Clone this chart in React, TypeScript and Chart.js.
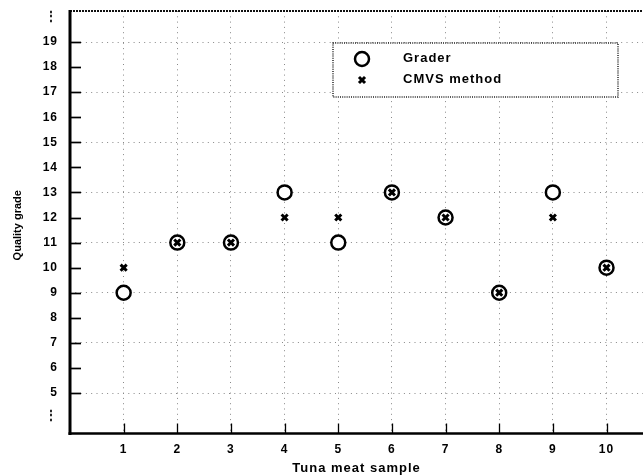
import React, { useEffect, useRef } from 'react';
import { Chart, registerables } from 'chart.js';

Chart.register(...registerables);

const samples = [1, 2, 3, 4, 5, 6, 7, 8, 9, 10];
const graderGrades = [9, 11, 11, 13, 11, 13, 12, 9, 13, 10];
const cmvsGrades = [10, 11, 11, 12, 12, 13, 12, 9, 12, 10];
const yTickValues = [4.1, 5, 6, 7, 8, 9, 10, 11, 12, 13, 14, 15, 16, 17, 18, 19, 20];
const yBreakTicks = [4.1, 20];
const seriesLabels = ['Grader', 'CMVS method'];
const xTitle = 'Tuna meat sample';
const yTitle = 'Quality grade';

const FONT = '"Liberation Sans", Arial, Helvetica, sans-serif';

const framePlugin = {
  id: 'frame',
  beforeDraw(chart: any) {
    chart.ctx.letterSpacing = '1px';
  },
  beforeDatasetsDraw(chart: any) {
    const { ctx, chartArea, scales } = chart;
    const { left, right, top, bottom } = chartArea;
    const x = scales.x;
    const y = scales.y;
    ctx.save();
    ctx.letterSpacing = '0px';
    // top dotted border
    ctx.strokeStyle = '#111';
    ctx.lineWidth = 2;
    ctx.setLineDash([2, 1]);
    ctx.beginPath();
    ctx.moveTo(left, top);
    ctx.lineTo(right, top);
    ctx.stroke();
    ctx.setLineDash([]);
    // left axis
    ctx.strokeStyle = '#000';
    ctx.lineWidth = 3;
    ctx.beginPath();
    ctx.moveTo(left, top - 1);
    ctx.lineTo(left, bottom + 1.5);
    ctx.stroke();
    // bottom axis
    ctx.lineWidth = 2.5;
    ctx.beginPath();
    ctx.moveTo(left - 1.5, bottom);
    ctx.lineTo(right, bottom);
    ctx.stroke();
    // y tick marks (inward)
    ctx.lineWidth = 1.7;
    for (const v of yTickValues) {
      if (yBreakTicks.includes(v)) continue;
      const py = Math.round(y.getPixelForValue(v)) + 0.5;
      ctx.beginPath();
      ctx.moveTo(left, py);
      ctx.lineTo(left + 11, py);
      ctx.stroke();
    }
    // x tick marks (inward)
    ctx.lineWidth = 1.3;
    for (const v of samples) {
      const px = Math.round(x.getPixelForValue(v)) + 0.5;
      ctx.beginPath();
      ctx.moveTo(px, bottom);
      ctx.lineTo(px, bottom - 10);
      ctx.stroke();
    }
    ctx.restore();
  },
  afterDraw(chart: any) {
    const { ctx, chartArea } = chart;
    ctx.save();
    // y axis title
    ctx.save();
    ctx.letterSpacing = '0px';
    ctx.fillStyle = '#000';
    ctx.font = `bold 11px ${FONT}`;
    ctx.textAlign = 'center';
    ctx.textBaseline = 'middle';
    ctx.translate(18, (chartArea.top + chartArea.bottom) / 2 + 3);
    ctx.rotate(-Math.PI / 2);
    ctx.fillText(yTitle, 0, 0);
    ctx.restore();
    // legend
    const bx = 333, by = 43, bw = 285, bh = 54;
    ctx.fillStyle = '#fff';
    ctx.fillRect(bx, by, bw, bh);
    ctx.strokeStyle = '#222';
    ctx.lineWidth = 1.5;
    ctx.setLineDash([1, 1.2]);
    ctx.strokeRect(bx, by, bw, bh);
    ctx.setLineDash([]);
    ctx.strokeStyle = '#000';
    ctx.lineWidth = 2.5;
    ctx.beginPath();
    ctx.arc(362, 59, 7, 0, Math.PI * 2);
    ctx.stroke();
    const r = 4.3 * Math.SQRT1_2;
    ctx.lineWidth = 3;
    ctx.beginPath();
    ctx.moveTo(362 - r, 80 - r);
    ctx.lineTo(362 + r, 80 + r);
    ctx.moveTo(362 + r, 80 - r);
    ctx.lineTo(362 - r, 80 + r);
    ctx.stroke();
    ctx.fillStyle = '#000';
    ctx.font = `bold 13px ${FONT}`;
    ctx.letterSpacing = '1px';
    ctx.textAlign = 'left';
    ctx.textBaseline = 'middle';
    ctx.fillText(seriesLabels[0], 403, 58);
    ctx.fillText(seriesLabels[1], 403, 79);
    ctx.restore();
  },
};

export default function App() {
  const ref = useRef<HTMLCanvasElement>(null);
  useEffect(() => {
    document.body.style.margin = '0';
    const canvas = ref.current!;
    const chart = new Chart(canvas, {
      type: 'scatter',
      data: {
        datasets: [
          {
            label: seriesLabels[0],
            data: samples.map((s, i) => ({ x: s, y: graderGrades[i] })),
            pointStyle: 'circle',
            pointRadius: 7,
            borderWidth: 2.5,
            borderColor: '#000',
            backgroundColor: '#fff',
            order: 2,
          },
          {
            label: seriesLabels[1],
            data: samples.map((s, i) => ({ x: s, y: cmvsGrades[i] })),
            pointStyle: 'crossRot',
            pointRadius: 4.3,
            borderWidth: 3,
            borderColor: '#000',
            backgroundColor: '#000',
            order: 1,
          },
        ],
      },
      options: {
        animation: false,
        responsive: false,
        devicePixelRatio: 1,
        events: [],
        layout: { autoPadding: false, padding: { top: 11, left: 0, right: 0, bottom: 0 } },
        plugins: { legend: { display: false }, tooltip: { enabled: false } },
        scales: {
          x: {
            type: 'linear',
            min: 0,
            max: 10.68,
            afterBuildTicks: (scale: any) => {
              scale.ticks = samples.map((v) => ({ value: v }));
            },
            afterFit: (scale: any) => {
              scale.height = 42.5;
              scale.paddingLeft = 0;
              scale.paddingRight = 0;
            },
            ticks: {
              color: '#000',
              font: { family: FONT, size: 12, weight: 'bold' },
              padding: 9,
              maxRotation: 0,
              autoSkip: false,
            },
            grid: { color: '#888', lineWidth: 1, drawTicks: false },
            border: { display: false, dash: [1, 4.3] },
            title: {
              display: true,
              text: xTitle,
              color: '#000',
              font: { family: FONT, size: 13, weight: 'bold' },
              padding: 0,
            },
          },
          y: {
            type: 'linear',
            min: 3.385,
            max: 20.237,
            afterBuildTicks: (scale: any) => {
              scale.ticks = yTickValues.map((v) => ({ value: v }));
            },
            afterFit: (scale: any) => {
              scale.width = 70;
              scale.paddingTop = 0;
              scale.paddingBottom = 0;
            },
            ticks: {
              color: '#000',
              font: { family: FONT, size: 12, weight: 'bold' },
              padding: 12,
              autoSkip: false,
              callback: (v: any) => (yBreakTicks.includes(Number(v)) ? '\u22EE' : String(v)),
            },
            grid: {
              color: (c: any) =>
                c.tick && Number.isInteger(c.tick.value) && c.tick.value % 2 === 1 ? '#888' : 'rgba(0,0,0,0)',
              lineWidth: 1,
              drawTicks: false,
            },
            border: { display: false, dash: [1, 4.3] },
            title: { display: false },
          },
        },
      },
      plugins: [framePlugin],
    } as any);
    return () => chart.destroy();
  }, []);
  return (
    <div style={{ position: 'absolute', left: 0, top: 0, width: 643, height: 476 }}>
      <canvas ref={ref} width={643} height={476} style={{ display: 'block' }} />
    </div>
  );
}
